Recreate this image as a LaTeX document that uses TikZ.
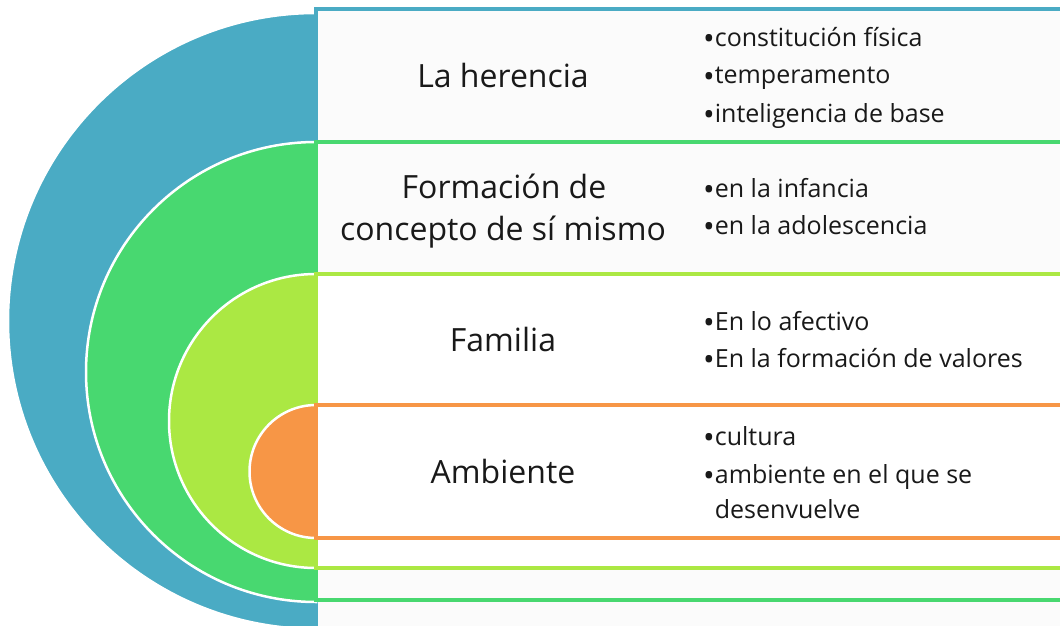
\documentclass[tikz,border=0pt]{standalone}
\usepackage{fontspec}
\setmainfont{Open Sans}
\definecolor{cblue}{HTML}{4AABC4}
\definecolor{cgreen}{HTML}{48D870}
\definecolor{clgreen}{HTML}{ABE843}
\definecolor{corange}{HTML}{F79646}
\definecolor{cfill}{HTML}{FBFBFB}
\newcommand\mybul{{\fontsize{31}{0}\selectfont\raisebox{-3pt}{•}}}
\begin{document}
\begin{tikzpicture}[x=1pt,y=-1pt,
  semi/.style={draw=white,line width=2.5pt},
  band/.style={line width=3.5pt,fill=cfill},
  mainlbl/.style={anchor=base,inner sep=0pt,font=\fontsize{32}{42}\selectfont,text=black!90},
  item/.style={anchor=base west,inner sep=0pt,font=\fontsize{25}{30}\selectfont,text=black!90}]
\useasboundingbox (0,0) rectangle (1060,626);
\clip (0,0) rectangle (1060,626);
\fill[white] (0,0) rectangle (1060,626);
% blue
\filldraw[semi,fill=cblue] (316,13) arc[start angle=-90,end angle=-270,radius=308] -- cycle;
\draw[band,draw=cblue] (316,9) rectangle (1090,660);
% green
\filldraw[semi,fill=cgreen] (316,142) arc[start angle=-90,end angle=-270,radius=230] -- cycle;
\draw[band,draw=cgreen] (316,142) rectangle (1090,600);
% light green
\filldraw[semi,fill=clgreen] (316,274) arc[start angle=-90,end angle=-270,radius=147] -- cycle;
\draw[band,draw=clgreen,fill=white] (316,274) rectangle (1090,568);
% orange
\filldraw[semi,fill=corange] (316,405) arc[start angle=-90,end angle=-270,radius=66.5] -- cycle;
\draw[band,draw=corange,fill=white] (316,405) rectangle (1090,538);
% main labels
\node[mainlbl] (her) at (503,88) {La herencia};
\node[mainlbl] (for1) at (504,198) {Formación de};
\node[mainlbl] (for2) at (503,240) {concepto de sí mismo};
\node[mainlbl] (fam) at (503,351) {Familia};
\node[mainlbl] (amb) at (503,483) {Ambiente};
% items
\node[item] (h1) at (703,47) {\mybul constitución física};
\node[item] (h2) at (703,84) {\mybul temperamento};
\node[item] (h3) at (703,122) {\mybul inteligencia de base};
\node[item] (f1) at (703,197) {\mybul en la infancia};
\node[item] (f2) at (703,234) {\mybul en la adolescencia};
\node[item] (m1) at (703,330) {\mybul En lo afectivo};
\node[item] (m2) at (703,367) {\mybul En la formación de valores};
\node[item] (a1) at (703,445) {\mybul cultura};
\node[item] (a2) at (703,483) {\mybul ambiente en el que se};
\node[item] (a3) at (703,518) {\phantom{\mybul}desenvuelve};
\end{tikzpicture}
\end{document}
